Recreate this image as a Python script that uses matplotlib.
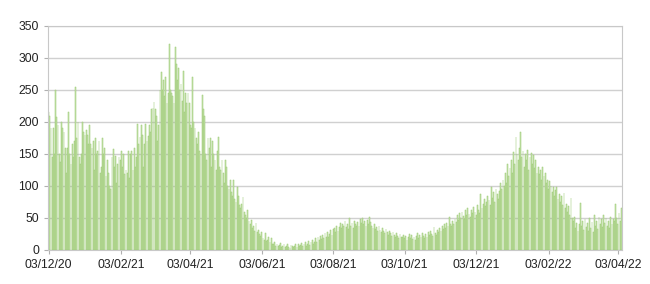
import matplotlib
matplotlib.use("Agg")
import matplotlib.pyplot as plt
import pandas as pd

plt.rcParams['font.family'] = ['Liberation Sans', 'DejaVu Sans']

start = "2020-12-03"

# daily values, one list per month
dec20 = [215, 210, 190, 145, 190, 150, 250, 208, 195, 150, 138, 200, 190, 185, 160, 120, 160, 215, 150, 135,
         165, 145, 170, 255, 175, 200, 145, 135, 150]
jan21 = [200, 185, 180, 187, 180, 165, 195, 165, 160, 170, 125, 175, 150, 155, 170, 120, 130, 175, 150, 160,
         115, 140, 120, 100, 95, 145, 158, 130, 147, 105, 135]
feb21 = [145, 140, 155, 130, 150, 118, 125, 120, 155, 113, 150, 155, 125, 160, 130, 145, 197, 165, 177, 195,
         180, 130, 165, 197, 170, 178, 195, 185]
mar21 = [220, 222, 232, 220, 210, 170, 195, 250, 278, 250, 265, 240, 270, 230, 245, 322, 250, 245, 240, 230,
         317, 291, 265, 284, 250, 260, 233, 280, 215, 245, 230]
apr21 = [245, 230, 195, 190, 270, 200, 190, 175, 165, 185, 155, 150, 242, 220, 210, 150, 140, 175, 160, 175,
         130, 170, 150, 140, 125, 155, 176, 130, 125, 140]
may21 = [120, 105, 140, 130, 100, 95, 109, 90, 85, 110, 80, 75, 99, 85, 70, 65, 72, 83, 60, 55,
         50, 62, 45, 40, 47, 35, 38, 30, 42, 28, 31]
jun21 = [25, 22, 28, 18, 15, 26, 14, 16, 20, 12, 18, 10, 9, 12, 7, 10, 6, 8, 11, 5,
         7, 9, 4, 6, 10, 5, 3, 8, 6, 4]
jul21 = [7, 10, 5, 9, 6, 8, 11, 6, 9, 12, 7, 10, 14, 8, 12, 16, 10, 13, 18, 12,
         20, 15, 22, 17, 24, 19, 26, 21, 28, 20, 25]
aug21 = [31, 24, 33, 35, 28, 38, 30, 36, 42, 34, 40, 38, 45, 36, 40, 33, 50, 38, 42, 35,
         46, 40, 37, 44, 38, 48, 42, 50, 40, 45, 38]
sep21 = [47, 40, 52, 43, 38, 35, 40, 33, 36, 30, 38, 32, 28, 35, 30, 26, 33, 28, 24, 30,
         26, 22, 28, 24, 20, 26, 22, 18, 25, 21]
oct21 = [20, 24, 18, 22, 16, 21, 25, 19, 23, 17, 20, 15, 22, 26, 19, 24, 21, 27, 22, 18,
         25, 20, 28, 23, 30, 25, 22, 36, 27, 24, 32]
nov21 = [28, 34, 30, 38, 33, 40, 35, 42, 38, 52, 40, 37, 45, 41, 48, 43, 55, 47, 58, 50,
         60, 53, 48, 62, 55, 65, 57, 52, 63, 58]
dec21 = [67, 60, 55, 70, 62, 58, 88, 65, 72, 80, 68, 75, 85, 78, 70, 98, 82, 90, 75, 95,
         88, 80, 92, 104, 95, 110, 100, 120, 105, 135, 115]
jan22 = [128, 140, 120, 153, 135, 177, 150, 140, 160, 185, 145, 155, 130, 150, 140, 156, 125, 145, 152, 135,
         148, 128, 140, 120, 130, 118, 125, 110, 130, 115, 120]
feb22 = [105, 109, 95, 108, 100, 90, 98, 85, 94, 99, 80, 88, 75, 85, 70, 89, 65, 72, 60, 68,
         55, 81, 50, 45, 52, 35, 42, 30]
mar22 = [40, 73, 38, 45, 32, 48, 36, 42, 30, 50, 35, 44, 28, 55, 38, 46, 33, 52, 40, 48,
         36, 55, 42, 50, 38, 45, 34, 52, 40, 48, 45]
apr22 = [72, 50, 40, 58, 45, 65]

values = (dec20 + jan21 + feb21 + mar21 + apr21 + may21 + jun21 + jul21 + aug21
          + sep21 + oct21 + nov21 + dec21 + jan22 + feb22 + mar22 + apr22)
dates = pd.date_range(start, periods=len(values), freq="D")

tick_dates = pd.to_datetime(["2020-12-03", "2021-02-03", "2021-04-03", "2021-06-03", "2021-08-03",
                             "2021-10-03", "2021-12-03", "2022-02-03", "2022-04-03"])
tick_pos = [(d - dates[0]).days for d in tick_dates]
tick_labels = [d.strftime("%d/%m/%y") for d in tick_dates]

fig = plt.figure(figsize=(6.5, 2.84), dpi=100)
ax = fig.add_axes([48 / 650, 34 / 284, 574 / 650, 224 / 284])

ax.bar(range(len(values)), values, width=0.7, color='#d0eabb', edgecolor='#98c66e', linewidth=0.35, zorder=2)

ax.set_ylim(0, 350)
ax.set_yticks(range(0, 351, 50))
ax.set_xlim(-0.6, len(values) - 0.4)
ax.set_xticks(tick_pos)
ax.set_xticklabels(tick_labels)
ax.grid(axis='y', color='#d0d0d0', linewidth=1, zorder=0)
for s in ax.spines.values():
    s.set_color('#c8c8c8')
ax.tick_params(axis='both', labelsize=8.7, length=3, colors='#222222')
ax.tick_params(axis='both', color='#b0b0b0')

fig.savefig("out.png", dpi=100)
